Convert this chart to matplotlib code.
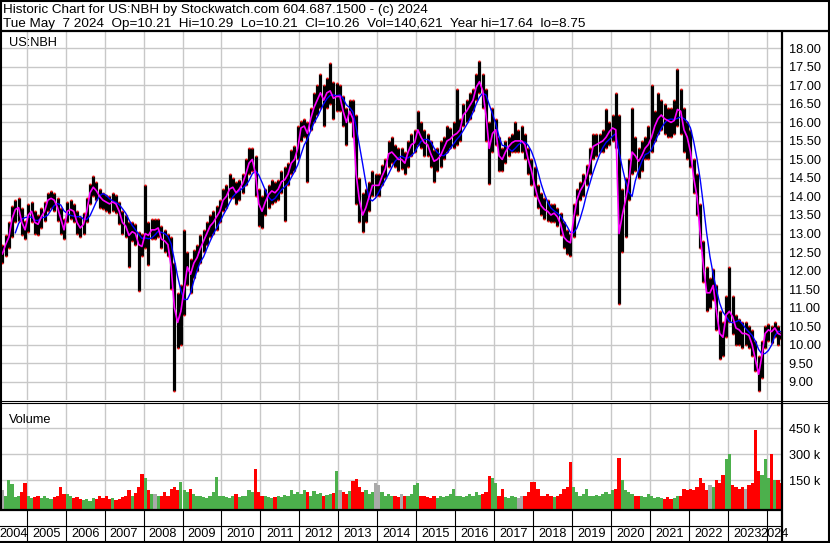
import numpy as np
import pandas as pd
import matplotlib
matplotlib.use("Agg")
import matplotlib.pyplot as plt

plt.rcParams['font.family'] = ['Liberation Sans', 'DejaVu Sans']

# 月次データ (2004-05 .. 2024-05)
months = pd.period_range("2004-05", "2024-05", freq="M")

close = [
    12.45, 12.7, 12.9, 13.4, 13.65, 13.7, 13.3, 13.1,
    13.5, 13.6, 13.3, 13.25, 13.45, 13.6, 13.9, 13.95, 13.9, 13.7, 13.4, 13.1,
    13.6, 13.65, 13.6, 13.3, 13.15, 13.25, 13.6, 14.1, 14.25, 14.15, 14.0, 13.9,
    13.85, 13.8, 13.85, 13.8, 13.6, 13.3, 13.2, 12.95, 13.05, 13.0, 12.7, 12.65,
    13.0, 12.95, 13.1, 13.1, 13.15, 12.85, 12.8, 12.7, 12.1, 11.0, 10.6, 10.9,
    11.5, 12.1, 11.9, 12.2, 12.35, 12.6, 12.8, 13.0, 13.2, 13.3, 13.45, 13.6,
    13.9, 14.0, 14.2, 14.25, 14.1, 14.2, 14.35, 14.6, 14.9, 15.0, 14.6, 13.8,
    13.6, 13.85, 14.05, 14.15, 14.1, 14.2, 14.4, 14.45, 14.6, 14.9, 15.0, 15.3,
    15.85, 15.9, 15.7, 16.1, 16.4, 16.6, 16.8, 16.6, 16.8, 16.85, 16.65, 16.7,
    16.7, 16.3, 16.0, 16.3, 16.1, 14.6, 13.9, 13.5, 13.7, 14.0, 14.3, 14.3,
    14.3, 14.55, 14.75, 15.15, 15.2, 15.1, 15.0, 15.0, 14.9, 15.2, 15.4, 15.45,
    15.8, 15.6, 15.45, 15.4, 15.15, 14.95, 15.0, 15.1, 15.3, 15.5, 15.55, 15.65,
    15.7, 15.8, 16.2, 16.3, 16.45, 16.6, 16.95, 17.1, 16.85, 16.2, 15.3, 15.7,
    15.8, 15.1, 15.0, 15.2, 15.35, 15.45, 15.5, 15.5, 15.5, 15.4, 15.0, 14.7,
    14.3, 13.95, 13.75, 13.65, 13.6, 13.5, 13.55, 13.45, 13.25, 12.9, 12.8, 12.75,
    13.4, 13.9, 14.15, 14.3, 14.55, 14.9, 15.35, 15.4, 15.45, 15.5, 15.6, 15.75,
    15.85, 15.8, 13.0, 13.5, 13.9, 14.4, 15.2, 15.1, 14.95, 15.1, 15.3, 15.4,
    15.6, 15.9, 16.1, 16.2, 16.1, 16.05, 16.0, 16.05, 16.35, 16.3, 15.8, 15.6,
    15.2, 14.5, 14.0, 13.0, 12.1, 11.4, 11.4, 11.6, 10.9, 10.3, 10.2, 10.8,
    10.9, 10.75, 10.45, 10.4, 10.3, 10.3, 10.25, 10.0, 9.6, 9.2, 9.7, 10.3,
    10.4, 10.35, 10.45, 10.3, 10.26,
]

high = [
    12.7, 12.95, 13.3, 13.75, 13.9, 13.95, 13.7, 13.35,
    13.8, 13.85, 13.6, 13.5, 13.7, 13.85, 14.1, 14.15, 14.1, 13.95, 13.7, 13.4,
    13.85, 13.9, 13.8, 13.6, 13.45, 13.55, 13.95, 14.35, 14.55, 14.4, 14.2, 14.1,
    14.05, 14.0, 14.1, 14.05, 13.85, 13.6, 13.5, 13.3, 13.3, 13.25, 13.05, 13.0,
    14.3, 13.3, 13.4, 13.4, 13.4, 13.2, 13.1, 13.0, 12.9, 12.2, 11.4, 11.6,
    13.1, 12.5, 12.3, 12.55, 12.7, 12.95, 13.1, 13.3, 13.5, 13.6, 13.75, 13.9,
    14.2, 14.3, 14.6, 14.5, 14.4, 14.45, 14.6, 15.0, 15.3, 15.3, 15.1, 14.2,
    14.0, 14.2, 14.3, 14.45, 14.4, 14.45, 14.7, 14.8, 14.9, 15.25, 15.35, 15.9,
    16.05, 16.1, 16.0, 16.4, 16.8, 17.0, 17.3, 17.0, 17.2, 17.6, 17.1, 17.05,
    17.0, 16.7, 16.4, 16.6, 16.6, 16.2, 14.5, 14.1, 14.2, 14.4, 14.7, 14.6,
    14.6, 14.85, 15.0, 15.5, 15.6, 15.4, 15.3, 15.3, 15.2, 15.5, 15.7, 15.8,
    16.3, 16.0, 15.8, 15.7, 15.5, 15.25, 15.3, 15.5, 15.6, 15.9, 15.85, 16.0,
    16.9, 16.1, 16.5, 16.6, 16.8, 16.9, 17.3, 17.65, 17.3, 16.9, 16.0, 16.4,
    16.1, 15.6, 15.3, 15.5, 15.6, 15.7, 16.0, 15.8, 15.9, 15.7, 15.3, 15.0,
    14.8, 14.3, 14.1, 13.95, 13.9, 13.8, 13.8, 13.7, 13.55, 13.3, 13.1, 13.0,
    13.8, 14.2, 14.4, 14.6, 14.85, 15.3, 15.7, 15.7, 15.7, 15.8, 16.35, 16.0,
    16.2, 16.8, 16.2, 14.2, 14.5, 15.0, 16.4, 15.6, 15.3, 15.5, 15.6, 15.9,
    17.0, 16.3, 16.8, 16.6, 16.5, 16.4, 16.4, 16.6, 17.45, 16.9, 16.4, 16.0,
    15.8, 15.0, 14.6, 13.8, 12.8, 12.1, 11.8, 12.05, 11.6, 10.9, 10.6, 11.3,
    12.1, 11.3, 10.8, 10.7, 10.6, 10.6, 10.5, 10.4, 10.1, 9.7, 10.1, 10.5,
    10.55, 10.5, 10.6, 10.5, 10.35,
]

low = [
    12.2, 12.4, 12.6, 12.9, 13.3, 13.35, 12.95, 12.85,
    13.05, 13.3, 13.0, 12.95, 13.15, 13.35, 13.6, 13.7, 13.6, 13.35, 13.0, 12.85,
    13.3, 13.4, 13.3, 13.0, 12.9, 13.0, 13.3, 13.8, 14.0, 13.9, 13.7, 13.65,
    13.6, 13.55, 13.6, 13.55, 13.25, 13.0, 12.9, 12.1, 12.8, 12.7, 11.45, 12.4,
    12.6, 12.15, 12.85, 12.85, 12.9, 12.6, 12.5, 12.4, 11.5, 8.75, 9.9, 10.0,
    10.8, 11.6, 11.4, 11.8, 12.0, 12.2, 12.5, 12.7, 12.9, 13.0, 13.1, 13.3,
    13.6, 13.7, 13.95, 13.95, 13.8, 13.9, 14.1, 14.3, 14.6, 14.7, 14.0, 13.2,
    13.15, 13.5, 13.7, 13.8, 13.85, 13.9, 14.1, 13.35, 14.3, 14.6, 14.7, 15.0,
    15.5, 15.6, 14.4, 15.8, 16.0, 16.2, 16.4, 15.9, 16.4, 16.5, 16.1, 16.3,
    16.3, 15.9, 15.4, 16.0, 15.6, 13.8, 13.3, 13.05, 13.3, 13.6, 14.0, 14.0,
    14.0, 14.3, 14.5, 14.8, 14.9, 14.8, 14.7, 14.75, 14.6, 14.8, 15.1, 15.2,
    15.4, 15.3, 15.1, 15.1, 14.8, 14.4, 14.7, 14.8, 15.0, 15.2, 15.3, 15.3,
    15.4, 15.5, 15.9, 16.0, 16.1, 16.3, 16.6, 16.8, 16.4, 15.5, 14.35, 15.2,
    15.4, 14.7, 14.7, 14.9, 15.1, 15.2, 15.2, 15.2, 15.2, 15.0, 14.6, 14.3,
    14.0, 13.7, 13.5, 13.4, 13.35, 13.3, 13.3, 13.2, 12.95, 12.6, 12.45, 12.4,
    12.9, 13.5, 13.9, 14.0, 14.3, 14.6, 15.0, 15.1, 15.2, 15.2, 15.3, 15.4,
    15.5, 15.3, 11.1, 12.5, 12.9, 13.9, 14.6, 14.7, 14.5, 14.7, 15.0, 15.0,
    15.2, 15.5, 15.7, 15.8, 15.7, 15.6, 15.6, 15.7, 15.9, 15.7, 15.2, 15.0,
    14.8, 14.1, 13.5, 12.6, 11.7, 10.9, 11.0, 11.2, 10.4, 9.6, 9.7, 10.2,
    10.6, 10.3, 10.0, 10.0, 9.9, 10.0, 9.9, 9.7, 9.3, 8.75, 9.1, 9.9,
    10.1, 10.05, 10.2, 10.0, 10.15,
]

# 出来高 (千株)
volume_k = [
    90, 55, 150, 125, 50, 60, 80, 130,
    60, 45, 50, 60, 45, 55, 45, 40, 50, 60, 110, 70,
    70, 55, 45, 50, 40, 35, 40, 30, 45, 40, 55, 45,
    55, 40, 45, 35, 40, 50, 60, 95, 60, 75, 110, 185,
    160, 90, 70, 70, 60, 60, 80, 60, 100, 110, 90, 140,
    90, 80, 100, 70, 60, 55, 50, 45, 60, 80, 170, 60,
    60, 50, 45, 60, 70, 50, 55, 60, 95, 80, 215, 80,
    60, 55, 50, 45, 50, 60, 50, 65, 55, 95, 70, 80,
    70, 95, 80, 60, 85, 70, 75, 60, 65, 70, 75, 200,
    90, 80, 70, 85, 145, 155, 110, 80, 90, 70, 80, 135,
    120, 80, 60, 70, 55, 60, 50, 70, 60, 55, 70, 120,
    130, 60, 55, 50, 45, 60, 45, 55, 50, 60, 70, 100,
    60, 55, 50, 60, 70, 60, 80, 65, 70, 80, 175, 160,
    130, 60, 100, 50, 45, 55, 50, 45, 60, 55, 80, 140,
    140, 100, 60, 55, 70, 60, 50, 60, 70, 100, 110, 255,
    110, 80, 60, 70, 100, 60, 55, 65, 60, 70, 80, 70,
    90, 100, 275, 150, 90, 80, 70, 60, 55, 60, 50, 70,
    60, 45, 50, 45, 40, 50, 40, 45, 55, 60, 100, 90,
    100, 90, 110, 160, 130, 90, 120, 110, 150, 130, 180, 270,
    300, 120, 110, 100, 110, 100, 120, 130, 440, 200, 180, 270,
    160, 300, 150, 150, 130,
]

years = list(range(2004, 2025))
price_ticks = np.arange(9.0, 18.01, 0.5)
vol_ticks_k = [150, 300, 450]

title1 = "Historic Chart for US:NBH by Stockwatch.com 604.687.1500 - (c) 2024"
title2 = ("Tue May  7 2024  Op=10.21  Hi=10.29  Lo=10.21  Cl=10.26  "
          "Vol=140,621  Year hi=17.64  lo=8.75")

# ---------------------------------------------------------------
t = np.array(months.year + (months.month - 0.5) / 12.0)
close_s = pd.Series(close)
ma_long = close_s.rolling(5).mean()
vol = np.array(volume_k) * 1000.0
diff = close_s.diff().fillna(0).values
vcolors = np.where(diff > 0, '#4cb04c', np.where(diff < 0, '#ff0000', '#aaaaaa'))

W, H = 830, 543
fig = plt.figure(figsize=(W / 100, H / 100), dpi=100)
fig.patch.set_facecolor('white')

def box(x0, y0, x1, y1):
    return [x0 / W, 1 - y1 / H, (x1 - x0) / W, (y1 - y0) / H]

px_per_year = 38.95
x_left = 2005 - (26.7 - 2) / px_per_year
x_right = 2005 + (781.7 - 26.7) / px_per_year
grid_c = '#c8c8c8'

# 価格パネル
ax_p = fig.add_axes(box(2, 31, 781.7, 400))
ax_p.vlines(t, low, high, color='black', lw=2.3, zorder=2)
ax_p.plot(t, low, 's', color='red', ms=1.3, mew=0, zorder=3)
ax_p.plot(t, high, 's', color='red', ms=1.3, mew=0, zorder=3)
ax_p.plot(t, ma_long, color='blue', lw=1.0, zorder=4)
ax_p.plot(t, close, color='magenta', lw=1.2, zorder=5)
ax_p.set_xlim(x_left, x_right)
ax_p.set_ylim(9 - 18.3 / 37.04, 18 + 17.3 / 37.04)
ax_p.set_xticks(years[1:])
ax_p.set_xticklabels([])
ax_p.set_yticks(price_ticks)
ax_p.set_yticklabels([f"{v:.2f}" for v in price_ticks])
ax_p.yaxis.tick_right()
ax_p.tick_params(axis='both', length=0, labelsize=9.2, pad=5)
ax_p.grid(True, color=grid_c, lw=1.0, zorder=0)
ax_p.set_axisbelow(True)
for s in ax_p.spines.values():
    s.set_visible(False)
ax_p.text(0.009, 0.968, "US:NBH", transform=ax_p.transAxes, fontsize=9.2,
          va='center', ha='left')

# 出来高パネル
vbase = -18000
ax_v = fig.add_axes(box(2, 403, 781.7, 509))
ax_v.bar(t, vol - vbase, bottom=vbase, width=1 / 12, color=vcolors,
         linewidth=0, zorder=2)
ax_v.set_xlim(x_left, x_right)
ax_v.set_ylim(vbase, 597000)
ax_v.set_xticks(years[1:])
ax_v.set_xticklabels([])
ax_v.set_yticks([v * 1000 for v in vol_ticks_k])
ax_v.set_yticklabels([f"{v} k" for v in vol_ticks_k])
ax_v.yaxis.tick_right()
ax_v.tick_params(axis='both', length=0, labelsize=9.2, pad=5)
ax_v.grid(True, color=grid_c, lw=1.0, zorder=0)
ax_v.set_axisbelow(True)
for s in ax_v.spines.values():
    s.set_visible(False)
ax_v.text(0.009, 0.84, "Volume", transform=ax_v.transAxes, fontsize=9.2,
          va='center', ha='left')

# 年ラベル帯
ax_x = fig.add_axes(box(0, 510, 781.7, 541))
ax_x.set_xlim(x_left - 2 / px_per_year, x_right)
ax_x.set_ylim(0, 1)
ax_x.axis('off')
ax_x.vlines(years[1:], 0, 1, color='black', lw=0.8)
ax_x.axhline(0.5, color='black', lw=0.8)
lo_edge, hi_edge = ax_x.get_xlim()
for y in years:
    a = max(y, lo_edge)
    b = min(y + 1, hi_edge)
    ax_x.text((a + b) / 2, 0.24, str(y), ha='center', va='center', fontsize=9.2)

# 枠線と見出し
ov = fig.add_axes([0, 0, 1, 1], zorder=10)
ov.set_xlim(0, W)
ov.set_ylim(H, 0)
ov.axis('off')
ov.patch.set_alpha(0)
k = dict(color='black', solid_capstyle='butt')
ov.plot([0, W], [0.8, 0.8], lw=1.5, **k)
ov.plot([0, W], [31, 31], lw=1.6, **k)
ov.plot([W - 0.8, W - 0.8], [0, H], lw=1.5, **k)
ov.plot([1, 1], [0, 510], lw=1.5, **k)
ov.plot([782, 782], [31, H], lw=1.6, **k)
ov.plot([0, W], [400.5, 400.5], lw=0.8, **k)
ov.plot([0, W], [402.5, 402.5], lw=0.8, **k)
ov.plot([0, 782], [510, 510], lw=1.6, **k)
ov.plot([0, W], [542, 542], lw=1.5, **k)
ov.text(3, 13.5, title1, fontsize=9.7, va='baseline', ha='left')
ov.text(3, 26.5, title2, fontsize=9.7, va='baseline', ha='left')

fig.savefig("out.png", dpi=100)
